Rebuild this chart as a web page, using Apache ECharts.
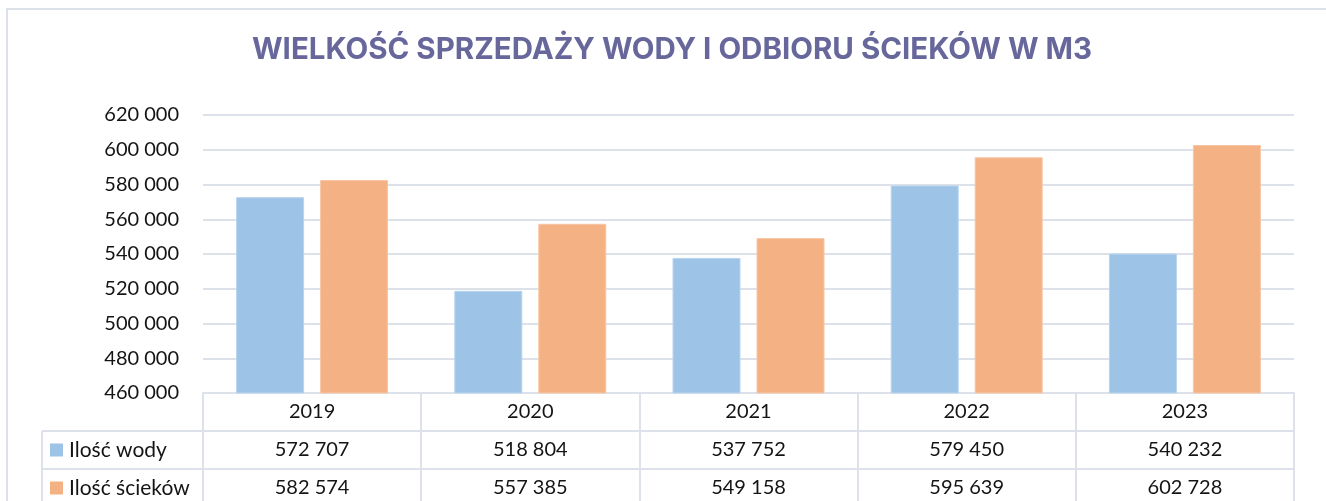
<!DOCTYPE html>
<html>
<head>
<meta charset="utf-8">
<script src="https://cdn.jsdelivr.net/npm/echarts@6/dist/echarts.min.js"></script>
<style>
  html, body { margin: 0; padding: 0; background: #fff; }
  #chart { width: 1326px; height: 501px; }
</style>
</head>
<body>
<div id="chart"></div>
<script>
// Annual volumes (m3) of water sold and wastewater collected
const years = ['2019', '2020', '2021', '2022', '2023'];
const waterSold = [572707, 518804, 537752, 579450, 540232];
const wastewater = [582574, 557385, 549158, 595639, 602728];
const seriesNames = ['Ilość wody', 'Ilość ścieków'];
const seriesColors = ['#9dc3e6', '#f4b183'];
const titleText = 'WIELKOŚĆ SPRZEDAŻY WODY I ODBIORU ŚCIEKÓW W M3';

const FONT = 'Lato';
const TEXT = '#141414';
const LINE = '#dde2ea';
const fmt = v => String(v).replace(/\B(?=(\d{3})+(?!\d))/g, ' ');

const chart = echarts.init(document.getElementById('chart'), null, { renderer: 'canvas' });

const gridLeft = 203, gridRight = 32, gridTop = 115, gridBottom = 108;

chart.setOption({
  animation: false,
  grid: { left: gridLeft, right: gridRight, top: gridTop, bottom: gridBottom, containLabel: false },
  xAxis: {
    type: 'category',
    data: years,
    axisLine: { show: true, lineStyle: { color: LINE, width: 2 } },
    axisTick: { show: true, length: 112, lineStyle: { color: LINE, width: 2 } },
    axisLabel: { color: TEXT, fontFamily: FONT, fontSize: 20, margin: 9 }
  },
  yAxis: {
    type: 'value',
    min: 460000,
    max: 620000,
    interval: 20000,
    axisLine: { show: false },
    axisTick: { show: false },
    splitLine: { lineStyle: { color: LINE, width: 2 } },
    axisLabel: { color: TEXT, fontFamily: FONT, fontSize: 20, margin: 24, formatter: fmt }
  },
  series: [
    {
      name: seriesNames[0], type: 'bar', data: waterSold,
      barWidth: 68, barGap: '23.5%',
      itemStyle: { color: seriesColors[0], borderColor: '#b9d5ee', borderWidth: 1 }
    },
    {
      name: seriesNames[1], type: 'bar', data: wastewater,
      barWidth: 68, barGap: '23.5%',
      itemStyle: { color: seriesColors[1], borderColor: '#f7c6a5', borderWidth: 1 }
    }
  ]
});

// Data table under the axis: rows with legend keys and values per year
function drawTable() {
  const rows = [waterSold, wastewater];
  const axisY = chart.convertToPixel({ gridIndex: 0 }, [0, 460000])[1];
  const rightX = chart.getWidth() - gridRight;
  const rowH = 38;
  const tableLeft = 42;
  const els = [];

  // outer frame of the chart area
  els.push({
    type: 'rect', shape: { x: 7, y: 9, width: 1340, height: 520 },
    style: { fill: null, stroke: LINE, lineWidth: 2 }, silent: true
  });

  // title
  els.push({
    type: 'text', x: 672, y: 50,
    style: {
      text: titleText, fill: '#67679c', font: 'bold 29.5px Inter',
      textAlign: 'center', textVerticalAlign: 'middle'
    }
  });

  // horizontal rules of the value rows
  for (let r = 1; r <= 2; r++) {
    const y = axisY + rowH * r;
    els.push({
      type: 'line', shape: { x1: tableLeft, y1: y, x2: rightX, y2: y },
      style: { stroke: LINE, lineWidth: 2 }, silent: true
    });
  }
  // left edge of the legend column
  els.push({
    type: 'line', shape: { x1: tableLeft, y1: axisY + rowH, x2: tableLeft, y2: axisY + rowH * 4 },
    style: { stroke: LINE, lineWidth: 2 }, silent: true
  });

  rows.forEach((vals, r) => {
    const cy = axisY + rowH * (r + 1) + rowH / 2;
    els.push({
      type: 'rect', shape: { x: 50, y: cy - 6.5, width: 13, height: 13 },
      style: { fill: seriesColors[r] }
    });
    els.push({
      type: 'text', x: 69, y: cy,
      style: { text: seriesNames[r], fill: TEXT, font: '21px ' + FONT, textVerticalAlign: 'middle' }
    });
    vals.forEach((v, i) => {
      const cx = chart.convertToPixel({ xAxisIndex: 0 }, years[i]);
      els.push({
        type: 'text', x: cx, y: cy,
        style: { text: fmt(v), fill: TEXT, font: '20px ' + FONT, textAlign: 'center', textVerticalAlign: 'middle' }
      });
    });
  });

  chart.setOption({ graphic: els });
}
drawTable();
</script>
</body>
</html>
